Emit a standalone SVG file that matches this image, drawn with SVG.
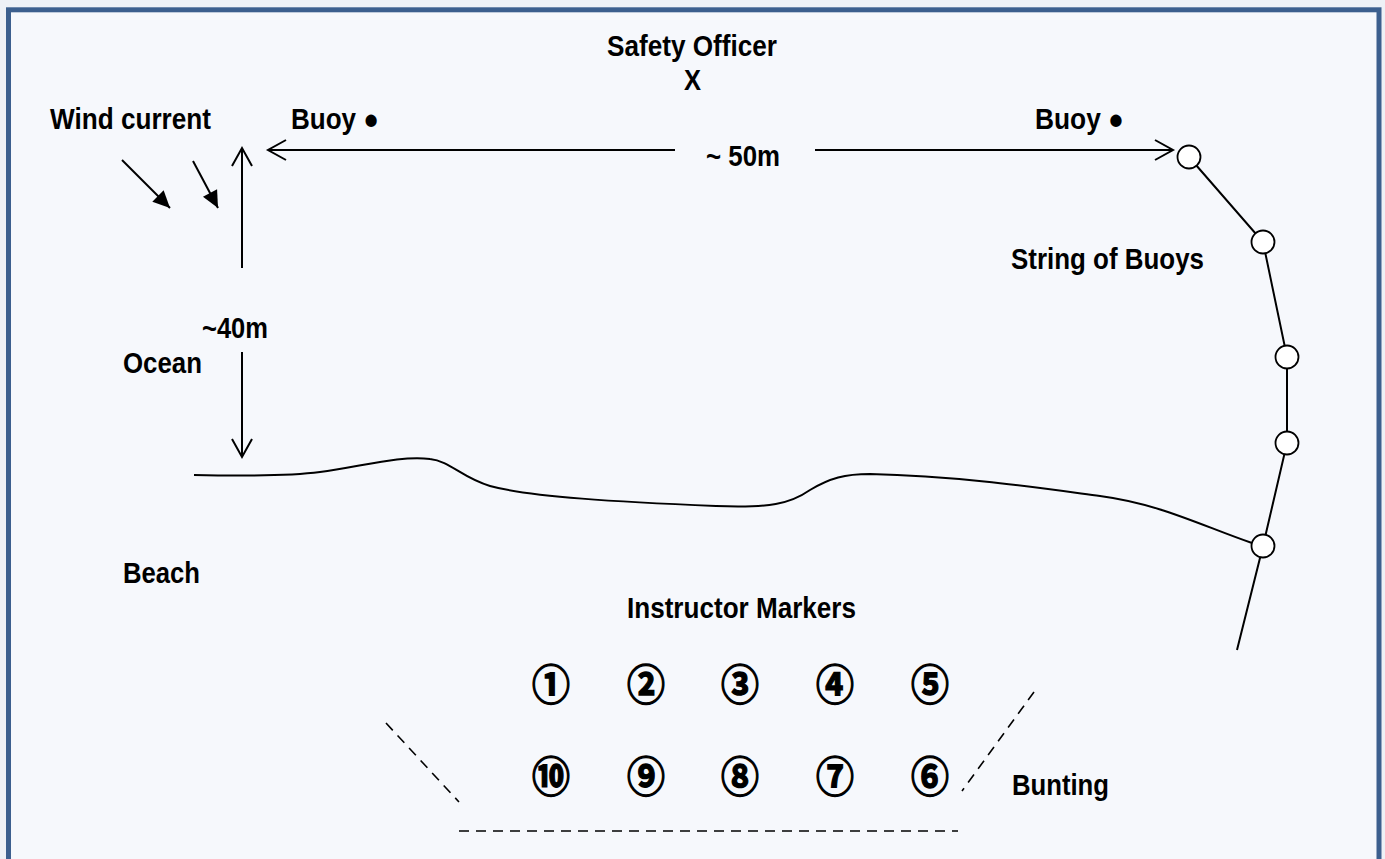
<svg xmlns="http://www.w3.org/2000/svg" width="1385" height="859" viewBox="0 0 1385 859">
<style>
  .lbl { font-family: "Liberation Sans", Arial, sans-serif; font-weight: bold; font-size: 29px; fill: #000; }
  .num { font-family: "Noto Sans CJK JP", "DejaVu Sans", sans-serif; font-weight: bold; font-size: 38px; fill: #000; stroke: #000; stroke-width: 1.2; text-anchor: middle; }
  .ln { stroke: #000; stroke-width: 2; fill: none; }
  .dash { stroke: #000; stroke-width: 1.6; fill: none; stroke-dasharray: 10 7; }
  .buoy { fill: #fff; stroke: #000; stroke-width: 1.8; }
</style>
<defs>
  <marker id="chev" markerUnits="userSpaceOnUse" markerWidth="24" markerHeight="24" viewBox="-20 -12 24 24" refX="0" refY="0" orient="auto" overflow="visible">
    <path d="M-18,-10 L0,0 L-18,10" fill="none" stroke="#000" stroke-width="2"/>
  </marker>
  <marker id="tri" markerUnits="userSpaceOnUse" markerWidth="20" markerHeight="20" viewBox="-18 -9 20 18" refX="0" refY="0" orient="auto" overflow="visible">
    <path d="M-17,-8 L0,0 L-17,8 Z" fill="#000"/>
  </marker>
</defs>
<rect x="0" y="0" width="1385" height="859" fill="#eef1f6"/>
<rect x="8.5" y="9.8" width="1370.5" height="900" fill="#f6f8fc" stroke="#3c5f8e" stroke-width="5"/>

<g id="connectors">
  <line class="ln" x1="675" y1="150" x2="268" y2="150" marker-end="url(#chev)"/>
  <line class="ln" x1="815" y1="150" x2="1173" y2="150" marker-end="url(#chev)"/>
  <line class="ln" x1="242" y1="268" x2="242" y2="148" marker-end="url(#chev)"/>
  <line class="ln" x1="242" y1="352" x2="242" y2="457" marker-end="url(#chev)"/>
  <line class="ln" x1="122" y1="160" x2="170" y2="208" marker-end="url(#tri)"/>
  <line class="ln" x1="193" y1="161" x2="218" y2="208" marker-end="url(#tri)"/>
  <polyline class="ln" points="1189,157 1263,242 1287,357 1287,443 1263,546 1237,650"/>
</g>

<g id="shoreline">
  <path class="ln" d="M194,475 C240,476 290,476 320,472 C360,467 400,455 430,459 C450,461 462,478 490,486 C530,497 620,502 716,506 C770,508 790,504 810,490 C830,478 845,474 870,474 C960,476 1040,488 1100,496 C1160,504 1200,525 1252,543"/>
</g>

<g id="buoys">
  <circle class="buoy" cx="1189" cy="157" r="11.5"/>
  <circle class="buoy" cx="1263" cy="242" r="11.5"/>
  <circle class="buoy" cx="1287" cy="357" r="11.5"/>
  <circle class="buoy" cx="1287" cy="443" r="11.5"/>
  <circle class="buoy" cx="1263" cy="546" r="11.5"/>
</g>

<g id="bunting">
  <line class="dash" x1="386" y1="723" x2="459" y2="802"/>
  <line class="dash" x1="1034" y1="692" x2="962" y2="791"/>
  <line class="dash" x1="459" y1="831" x2="958" y2="831"/>
</g>

<g id="labels">
  <text class="lbl" x="607" y="56" textLength="170" lengthAdjust="spacingAndGlyphs">Safety Officer</text>
  <text class="lbl" x="692.5" y="90" text-anchor="middle" textLength="17" lengthAdjust="spacingAndGlyphs">X</text>
  <text class="lbl" x="50" y="129" textLength="161" lengthAdjust="spacingAndGlyphs">Wind current</text>
  <text class="lbl" x="291" y="129" textLength="88" lengthAdjust="spacingAndGlyphs">Buoy ●</text>
  <text class="lbl" x="1035" y="129" textLength="89" lengthAdjust="spacingAndGlyphs">Buoy ●</text>
  <text class="lbl" x="706" y="166" textLength="74" lengthAdjust="spacingAndGlyphs">~ 50m</text>
  <text class="lbl" x="1011" y="269" textLength="193" lengthAdjust="spacingAndGlyphs">String of Buoys</text>
  <text class="lbl" x="202" y="338" textLength="66" lengthAdjust="spacingAndGlyphs">~40m</text>
  <text class="lbl" x="123" y="373" textLength="79" lengthAdjust="spacingAndGlyphs">Ocean</text>
  <text class="lbl" x="123" y="583" textLength="77" lengthAdjust="spacingAndGlyphs">Beach</text>
  <text class="lbl" x="627" y="618" textLength="229" lengthAdjust="spacingAndGlyphs">Instructor Markers</text>
  <text class="lbl" x="1012" y="795" textLength="97" lengthAdjust="spacingAndGlyphs">Bunting</text>
</g>

<g id="markers">
  <text class="num" transform="translate(551,685) scale(1,1.1)" y="14">①</text>
  <text class="num" transform="translate(646,685) scale(1,1.1)" y="14">②</text>
  <text class="num" transform="translate(740,685) scale(1,1.1)" y="14">③</text>
  <text class="num" transform="translate(835,685) scale(1,1.1)" y="14">④</text>
  <text class="num" transform="translate(930,685) scale(1,1.1)" y="14">⑤</text>
  <text class="num" transform="translate(551,777) scale(1,1.1)" y="14">⑩</text>
  <text class="num" transform="translate(646,777) scale(1,1.1)" y="14">⑨</text>
  <text class="num" transform="translate(740,777) scale(1,1.1)" y="14">⑧</text>
  <text class="num" transform="translate(835,777) scale(1,1.1)" y="14">⑦</text>
  <text class="num" transform="translate(930,777) scale(1,1.1)" y="14">⑥</text>
</g>
</svg>
